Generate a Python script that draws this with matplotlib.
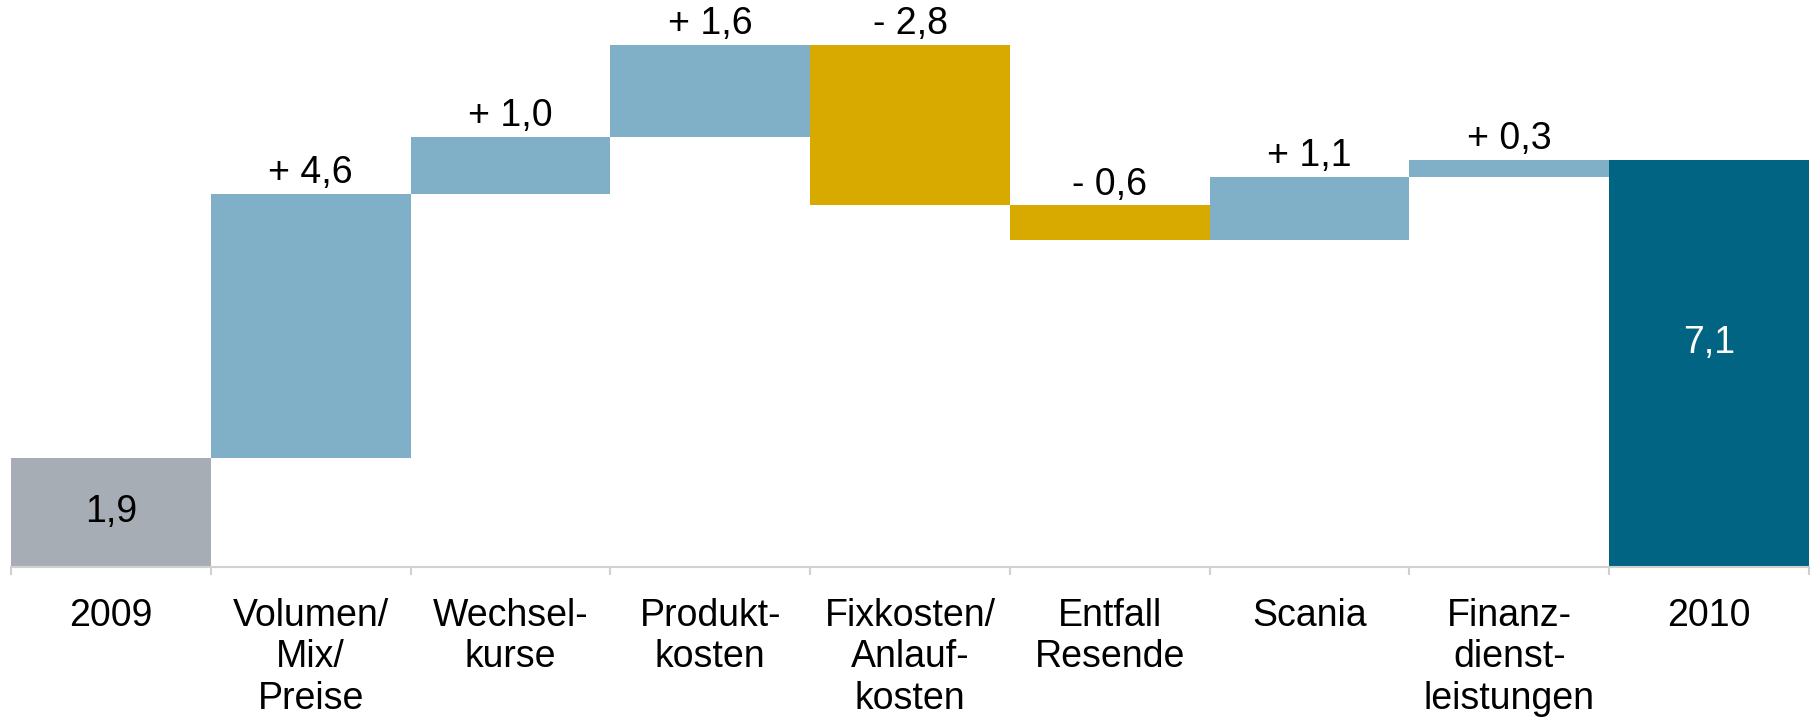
import matplotlib.pyplot as plt
import numpy as np

plt.rcParams['font.family'] = ['Liberation Sans', 'DejaVu Sans']

# Data
categories = ["2009", "Volumen/\nMix/\nPreise", "Wechsel-\nkurse", "Produkt-\nkosten",
              "Fixkosten/\nAnlauf-\nkosten", "Entfall\nResende", "Scania",
              "Finanz-\ndienst-\nleistungen", "2010"]
start_value = 1.9
deltas = [4.6, 1.0, 1.6, -2.8, -0.6, 1.1, 0.3]
end_value = 7.1

# Colours
c_start = "#A7ADB4"
c_up = "#80B0C8"
c_down = "#D8AA00"
c_end = "#006482"

def fmt(v):
    return f"{abs(v):.1f}".replace(".", ",")

fig = plt.figure(figsize=(18.1301, 7.2101), dpi=100)
ax = fig.add_axes([11 / 1813, 154 / 721, 1798 / 1813, 567 / 721])

x = np.arange(len(categories))

# start bar
ax.bar(x[0], start_value, width=1.0, color=c_start)
ax.text(x[0], start_value / 2, fmt(start_value), ha="center", va="center",
        fontsize=27, color="black")

# floating bars
level = start_value
for i, d in enumerate(deltas, start=1):
    bottom = level if d > 0 else level + d
    ax.bar(x[i], abs(d), bottom=bottom, width=1.0, color=c_up if d > 0 else c_down)
    top = max(level, level + d)
    sign = "+ " if d > 0 else "- "
    ax.annotate(sign + fmt(d), (x[i], top), xytext=(0, 2), textcoords="offset points",
                ha="center", va="bottom", fontsize=27)
    level += d

# end bar
ax.bar(x[-1], end_value, width=1.0, color=c_end)
ax.text(x[-1], end_value * 0.55, fmt(end_value), ha="center", va="center",
        fontsize=27, color="white")

ax.set_xlim(-0.5, len(categories) - 0.5)
ax.set_ylim(0, 9.88)

for s in ["top", "right", "left"]:
    ax.spines[s].set_visible(False)
ax.spines["bottom"].set_color("#D0D0D0")
ax.spines["bottom"].set_linewidth(1.5)
ax.set_yticks([])

ax.set_xticks(x)
ax.set_xticklabels(categories, fontsize=27, va="top", linespacing=1.2)
ax.tick_params(axis="x", which="major", length=0, pad=22)
ax.set_xticks(np.arange(-0.5, len(categories)), minor=True)
ax.tick_params(axis="x", which="minor", length=5.5, width=1.5, color="#D0D0D0")

fig.savefig("out.png", dpi=100)
